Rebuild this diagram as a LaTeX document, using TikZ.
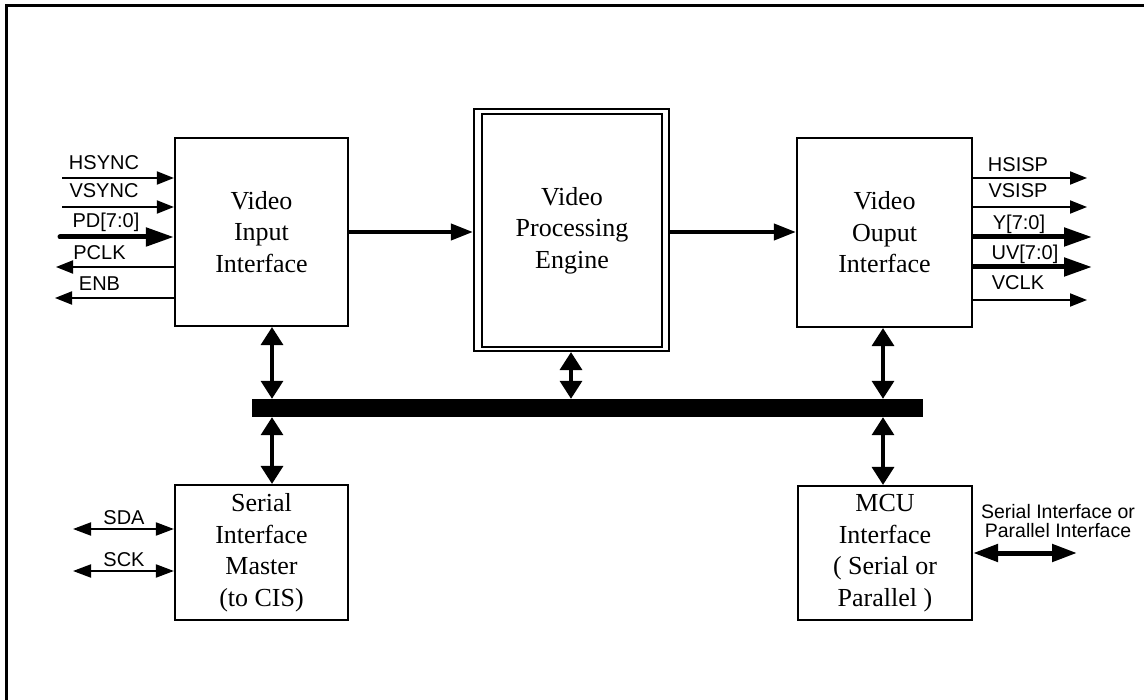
\documentclass[tikz,border=0pt]{standalone}
\usepackage{fontspec}
\setmainfont{Liberation Serif}
\newfontfamily\labfont{Liberation Sans}
\usetikzlibrary{arrows.meta}
\begin{document}
\begin{tikzpicture}[x=1pt,y=-1pt,
  blk/.style={draw, line width=2.2pt, fill=white, inner sep=0pt, align=center,
    font=\fontsize{26}{31.5}\selectfont},
  lab/.style={anchor=base, inner sep=0pt, font=\labfont\fontsize{20}{17.5}\selectfont},
  sig/.style={line width=2pt, -{Triangle[length=17pt,width=13pt]}},
  wide/.style={line width=5pt, -{Triangle[length=28pt,width=18pt]}},
  bidi/.style={line width=2pt, {Triangle[length=18pt,width=13pt]}-{Triangle[length=18pt,width=13pt]}},
  link/.style={line width=3.5pt, {Triangle[length=18pt,width=22pt]}-{Triangle[length=18pt,width=22pt]}},
  flow/.style={line width=4pt, -{Triangle[length=22pt,width=16pt]}},
  host/.style={line width=5pt, {Triangle[length=25pt,width=17pt]}-{Triangle[length=25pt,width=17pt]}}
]
\useasboundingbox (0,0) rectangle (1144,700);
\fill[white] (0,0) rectangle (1144,700);
% outer frame
\draw[line width=2.6pt] (6.5,700) -- (6.5,5.5) -- (1144,5.5);

% blocks
\node[blk, minimum width=173pt, minimum height=188pt] (vin) at (261.5,232) {Video\\Input\\Interface};
\node[draw, line width=2.2pt, minimum width=195pt, minimum height=242pt, inner sep=0pt] (vpe) at (571.5,230) {};
\node[blk, line width=2.9pt, minimum width=180pt, minimum height=233pt] (vpein) at (572,230.5) {Video\\Processing\\Engine};
\node[blk, minimum width=175pt, minimum height=189pt] (vout) at (884.5,232.5) {Video\\Ouput\\Interface};
\node[blk, minimum width=173pt, minimum height=135pt] (sim) at (261.5,552.5) {Serial\\Interface\\Master\\(to CIS)};
\node[blk, minimum width=174pt, minimum height=134pt] (mcu) at (885,553) {MCU\\Interface\\( Serial or\\Parallel )};

% system bus
\node[fill=black, minimum width=671pt, minimum height=18pt, inner sep=0pt] (bus) at (587.5,408) {};

% data path
\draw[flow] (vin.east |- 0,232) -- (vpe.west |- 0,232);
\draw[flow] (vpe.east |- 0,232) -- (vout.west |- 0,232);

% bus links
\coordinate (xl) at (272,0);
\coordinate (xm) at (571,0);
\coordinate (xr) at (883,0);
\draw[link] (vin.south -| xl) -- (bus.north -| xl);
\draw[link] (bus.south -| xl) -- (sim.north -| xl);
\draw[link] (vpe.south -| xm) -- (bus.north -| xm);
\draw[link] (vout.south -| xr) -- (bus.north -| xr);
\draw[link] (bus.south -| xr) -- (mcu.north -| xr);

% input side signals
\coordinate (hsync) at (62,178);
\coordinate (vsync) at (62,207);
\coordinate (pd) at (60,237);
\coordinate (pclk) at (56,267);
\coordinate (enb) at (55,298);
\draw[sig] (hsync) -- (hsync -| vin.west);
\draw[sig] (vsync) -- (vsync -| vin.west);
\draw[wide, line cap=round] (pd) -- (pd -| vin.west);
\draw[sig] (pclk -| vin.west) -- (pclk);
\draw[sig] (enb -| vin.west) -- (enb);
\node[lab] (lhsync) at (104,170) {HSYNC};
\node[lab] (lvsync) at (104,198) {VSYNC};
\node[lab] (lpd) at (106,228) {PD[7:0]};
\node[lab] (lpclk) at (99.5,260) {PCLK};
\node[lab] (lenb) at (99.5,291) {ENB};

% output side signals
\coordinate (hsisp) at (1087,178);
\coordinate (vsisp) at (1087,207);
\coordinate (ybus) at (1092,237);
\coordinate (uvbus) at (1092,267);
\coordinate (vclk) at (1087,300);
\draw[sig] (hsisp -| vout.east) -- (hsisp);
\draw[sig] (vsisp -| vout.east) -- (vsisp);
\draw[wide] (ybus -| vout.east) -- (ybus);
\draw[wide] (uvbus -| vout.east) -- (uvbus);
\draw[sig] (vclk -| vout.east) -- (vclk);
\node[lab] (lhsisp) at (1018,172) {HSISP};
\node[lab] (lvsisp) at (1018,198) {VSISP};
\node[lab] (ly) at (1019,230) {Y[7:0]};
\node[lab] (luv) at (1025,260) {UV[7:0]};
\node[lab] (lvclk) at (1018,290) {VCLK};

% serial master pins
\coordinate (sda) at (73,529);
\coordinate (sck) at (73,571);
\draw[bidi] (sda) -- (sda -| sim.west);
\draw[bidi] (sck) -- (sck -| sim.west);
\node[lab] (lsda) at (124,525) {SDA};
\node[lab] (lsck) at (124,566) {SCK};

% host port
\coordinate (hostend) at (1077,553);
\draw[host] (hostend -| mcu.east) -- (hostend);
\node[lab, align=center, font=\labfont\fontsize{19.5}{19}\selectfont] (lhost) at (1058,537) {Serial Interface or\\Parallel Interface};
\end{tikzpicture}
\end{document}
